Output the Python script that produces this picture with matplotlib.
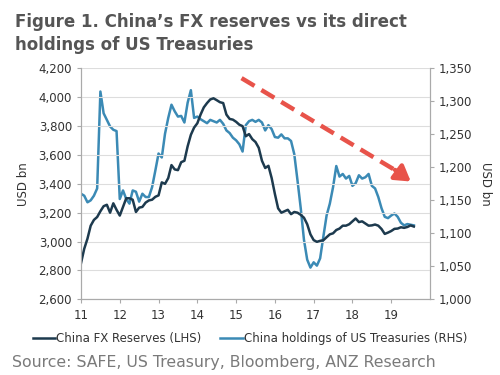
import numpy as np
import matplotlib
matplotlib.use("Agg")
import matplotlib.pyplot as plt

# monthly, Dec 2010 .. Jul 2019 (USD bn)
fx_reserves = [
    2850,
    2950, 3020, 3110, 3150, 3170, 3210, 3245, 3255, 3200, 3265, 3220, 3180,
    3240, 3300, 3300, 3290, 3205, 3235, 3240, 3270, 3285, 3290, 3310, 3320,
    3410, 3400, 3440, 3530, 3500, 3495, 3550, 3560, 3660, 3740, 3790, 3820,
    3880, 3930, 3960, 3985, 3993, 3980, 3966, 3960, 3880, 3850, 3845, 3830,
    3810, 3800, 3730, 3745, 3710, 3690, 3650, 3560, 3510, 3525, 3440, 3330,
    3230, 3200, 3210, 3220, 3190, 3205, 3200, 3185, 3165, 3120, 3050, 3010,
    2998, 3005, 3009, 3030, 3050, 3057, 3080, 3090, 3110, 3110, 3120, 3140,
    3160, 3135, 3140, 3125, 3110, 3112, 3118, 3110, 3087, 3053, 3062, 3073,
    3088, 3090, 3099, 3095, 3101, 3112, 3104,
]
ust_holdings = [
    1160,
    1157, 1147, 1150, 1157, 1168, 1315, 1282, 1272, 1262, 1257, 1255, 1152,
    1165, 1152, 1145, 1165, 1163, 1148, 1160, 1155, 1155, 1170, 1195, 1221,
    1215, 1251, 1275, 1295, 1285, 1277, 1278, 1268, 1298, 1317, 1275, 1277,
    1273, 1270, 1267, 1272, 1270, 1268, 1272, 1266, 1256, 1252, 1245, 1241,
    1235, 1224, 1264, 1270, 1272, 1269, 1272, 1268, 1256, 1264, 1258, 1246,
    1245, 1250, 1244, 1244, 1240, 1220, 1180, 1138, 1090, 1060, 1048, 1056,
    1051, 1062, 1095, 1127, 1145, 1170, 1202, 1186, 1190, 1183, 1187, 1172,
    1176, 1188, 1183, 1185, 1190, 1172, 1168, 1155, 1138, 1125, 1123, 1127,
    1130, 1125, 1116, 1112, 1114, 1113, 1112,
]
years = [2011, 2012, 2013, 2014, 2015, 2016, 2017, 2018, 2019]
year_labels = ["11", "12", "13", "14", "15", "16", "17", "18", "19"]

t = 2011 + np.arange(len(fx_reserves)) / 12

dark = "#1d3a4e"
light = "#3b8ab5"
grey = "#555555"

fig = plt.figure(figsize=(5, 3.75), dpi=100)
ax = fig.add_axes([0.162, 0.202, 0.698, 0.6155])
ax2 = ax.twinx()

l1, = ax.plot(t, fx_reserves, color=dark, lw=1.8, label="China FX Reserves (LHS)")
l2, = ax2.plot(t, ust_holdings, color=light, lw=1.8, label="China holdings of US Treasuries (RHS)")
ax.set_zorder(ax2.get_zorder() + 1)
ax.patch.set_visible(False)

ax.set_xlim(2011, 2020)
ax.set_ylim(2600, 4200)
ax2.set_ylim(1000, 1350)
ax.set_yticks(np.arange(2600, 4201, 200))
ax2.set_yticks(np.arange(1000, 1351, 50))
ax.set_xticks(years)
ax.set_xticklabels(year_labels)
ax.yaxis.set_major_formatter(matplotlib.ticker.StrMethodFormatter("{x:,.0f}"))
ax2.yaxis.set_major_formatter(matplotlib.ticker.StrMethodFormatter("{x:,.0f}"))

ax.grid(axis="y", color="#dddddd", lw=0.8)
ax.set_axisbelow(True)
for a in (ax, ax2):
    a.spines["top"].set_visible(False)
    for s in ("left", "right", "bottom"):
        a.spines[s].set_color("#aaaaaa")
        a.spines[s].set_linewidth(0.8)
    a.tick_params(colors="#aaaaaa", labelcolor="#333333", labelsize=8.5, length=3, width=0.8)
ax.tick_params(axis="x", pad=4)

ax.set_ylabel("USD bn", fontsize=8.5, color="#333333", labelpad=6)
ax2.set_ylabel("USD bn", fontsize=8.5, color="#333333", rotation=270, labelpad=14)

# red dashed trend arrow
red = "#e8534a"
ax.plot([0.46, 0.905], [0.958, 0.555], transform=ax.transAxes, color=red, lw=3.2,
        dashes=(3.4, 1.8), solid_capstyle="butt", zorder=5)
ax.annotate("", xy=(0.945, 0.51), xytext=(0.90, 0.56), xycoords="axes fraction",
            arrowprops=dict(arrowstyle="-|>,head_length=0.9,head_width=0.55",
                            color=red, lw=3.2, shrinkA=0, shrinkB=0), zorder=5)

fig.legend(handles=[l1, l2], loc="center", bbox_to_anchor=(0.5, 0.098), ncol=2,
           frameon=False, fontsize=8.5, handlelength=1.9, handletextpad=0.1,
           columnspacing=1.6, labelcolor="#333333")

fig.text(0.03, 0.928, "Figure 1. China\u2019s FX reserves vs its direct", fontsize=12,
         fontweight="bold", color=grey)
fig.text(0.03, 0.866, "holdings of US Treasuries", fontsize=12, fontweight="bold", color=grey)
fig.text(0.024, 0.02, "Source: SAFE, US Treasury, Bloomberg, ANZ Research", fontsize=11.3,
         color="#7a7a7a")

fig.savefig("out.png", dpi=100)
